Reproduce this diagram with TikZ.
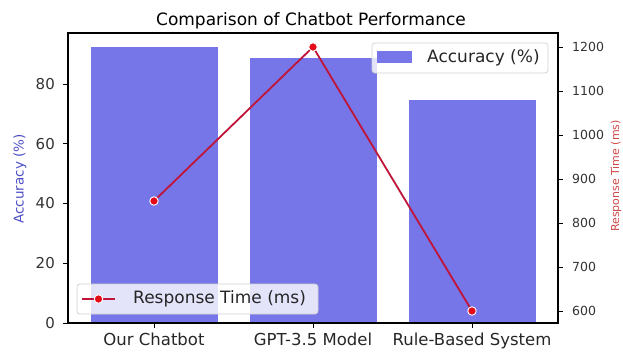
\documentclass[tikz,border=0pt]{standalone}
\usepackage{fontspec}
\setmainfont{DejaVu Sans}
\usetikzlibrary{positioning,calc}
\definecolor{barblue}{RGB}{118,118,232}
\definecolor{linered}{RGB}{192,20,56}
\definecolor{dotred}{RGB}{228,10,24}
\definecolor{acclabel}{RGB}{78,78,200}
\definecolor{resplabel}{RGB}{206,72,72}
\tikzset{
  accbar/.style={fill=barblue,draw=none},
  frame/.style={line width=1.1pt,black},
  tickmark/.style={line width=0.9pt,black},
  lefttick/.style={inner sep=0pt,anchor=east,font=\fontsize{15}{15}\selectfont,text=black!80},
  righttick/.style={inner sep=0pt,anchor=west,font=\fontsize{12.5}{12.5}\selectfont,text=black!80},
  catlabel/.style={inner sep=0pt,anchor=base,font=\fontsize{16.5}{16.5}\selectfont,text=black!85},
  respline/.style={line width=1.8pt,linered,line join=round},
  respdot/.style={circle,fill=dotred,draw=white,line width=0.9pt,minimum size=8.5pt,inner sep=0pt},
  legendbox/.style={fill=white,fill opacity=0.8,draw=black!18,line width=0.7pt,rounded corners=3pt},
  legendtext/.style={inner sep=0pt,anchor=west,font=\fontsize{17}{17}\selectfont,text=black!85}
}
\begin{document}
\begin{tikzpicture}[x=1pt,y=-1pt]
  \useasboundingbox (0,0) rectangle (623,351);

  % Title.
  \node[inner sep=0pt,anchor=base,font=\fontsize{17}{17}\selectfont] (title)
    at (311,25) {Comparison of Chatbot Performance};

  % Accuracy bars (left scale: y = 323 - 2.987*value).
  \foreach \i/\v in {0/92.5,1/88.7,2/74.6}
    \fill[accbar] ({154+159*\i-63.5},323) rectangle ({154+159*\i+63.5},{323-2.987*\v});

  % Legend of the bars.
  \draw[legendbox] (372,43) rectangle (548,73);
  \fill[barblue] (377,51) rectangle (412,63);
  \node[legendtext] (accleg) at (427,58) {Accuracy (\%)};

  % Response times (right scale: y = 311 - 0.44*(value-600)).
  \coordinate (p0) at (154,201);
  \coordinate (p1) at (313,47);
  \coordinate (p2) at (472,311);
  \draw[respline] (p0) -- (p1) -- (p2);
  \foreach \p in {p0,p1,p2}
    \node[respdot] at (\p) {};

  % Legend of the line.
  \draw[legendbox] (77,284) rectangle (318,314);
  \coordinate (lgA) at (82,299);
  \coordinate (lgB) at (115,299);
  \draw[respline] (lgA) -- (lgB);
  \node[respdot] (lgdot) at ($(lgA)!0.5!(lgB)$) {};
  \node[legendtext] (respleg) at (133,299) {Response Time (ms)};

  % Frame and ticks.
  \draw[frame] (68,33) rectangle (558,323);
  \foreach \v in {0,20,40,60,80} {
    \draw[tickmark] (63,{323-2.987*\v}) -- (68,{323-2.987*\v});
    \node[lefttick] at (55,{323-2.987*\v}) {\v};
  }
  \foreach \v in {600,700,...,1200} {
    \draw[tickmark] (558,{311-0.44*(\v-600)}) -- (563,{311-0.44*(\v-600)});
    \node[righttick] at (572,{311-0.44*(\v-600)}) {\v};
  }
  \foreach \i/\t in {0/Our Chatbot,1/GPT-3.5 Model,2/Rule-Based System} {
    \draw[tickmark] ({154+159*\i},323) -- ({154+159*\i},328);
    \node[catlabel] at ({154+159*\i},345.5) {\t};
  }

  % Axis labels.
  \node[rotate=90,inner sep=0pt,text=acclabel,font=\fontsize{13.5}{13.5}\selectfont]
    (acclabel) at (20,179) {Accuracy (\%)};
  \node[rotate=90,inner sep=0pt,text=resplabel,font=\fontsize{11}{11}\selectfont]
    (resplabel) at (616,176) {Response Time (ms)};
\end{tikzpicture}
\end{document}
